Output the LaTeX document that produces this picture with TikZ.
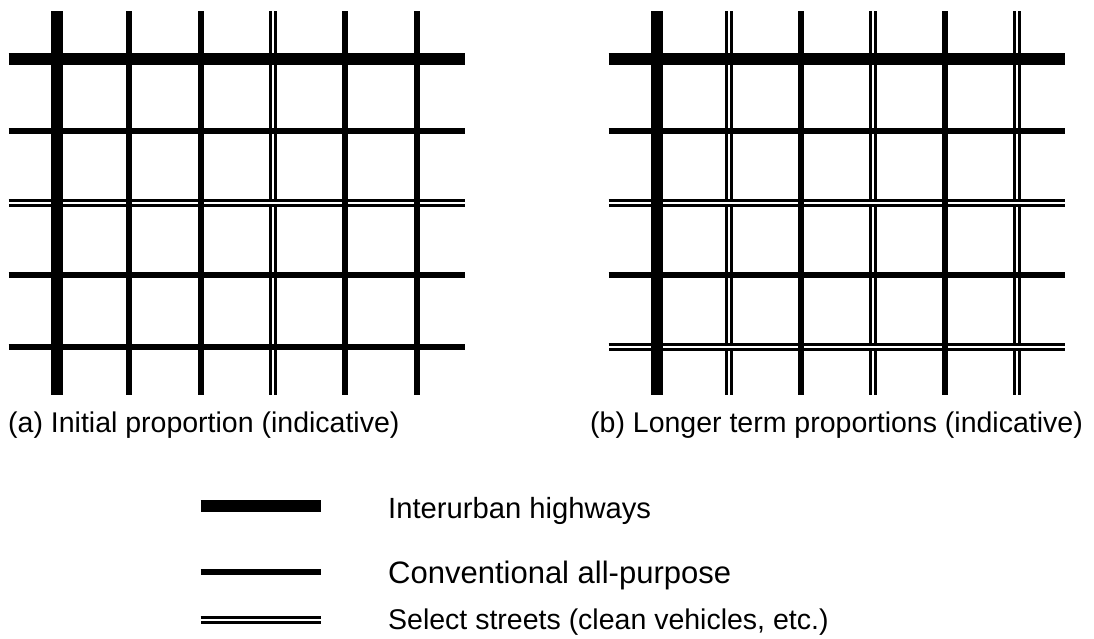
\documentclass[tikz,border=0pt]{standalone}
\usepackage{fontspec}
\setmainfont{Liberation Sans}
\begin{document}
\begin{tikzpicture}[x=1pt, y=-1pt, line cap=butt,
  hwy/.style={line width=12pt},
  conv/.style={line width=5.8pt},
  sel/.style={line width=2.4pt, double=white, double distance=2.4pt},
  lbl/.style={anchor=base west, inner sep=0pt},
  capfont/.style={font=\fontsize{28.5}{32}\selectfont}]
\useasboundingbox (0,0) rectangle (1094,638);

% ---------- grid (a): initial proportion ----------
\begin{scope}
  \draw[sel] (273,11) -- (273,395);
  \draw[sel] (8.7,203) -- (464.7,203);
  \foreach \x in {129,201,345,417} \draw[conv] (\x,11) -- (\x,395);
  \foreach \y in {131,275,347} \draw[conv] (8.7,\y) -- (464.7,\y);
  \draw[hwy] (8.7,59) -- (464.7,59);
  \draw[hwy] (57,11) -- (57,395);
\end{scope}

% ---------- grid (b): longer term proportions ----------
\begin{scope}
  \foreach \x in {729,873,1017} \draw[sel] (\x,11) -- (\x,395);
  \foreach \y in {203,347} \draw[sel] (608.7,\y) -- (1064.7,\y);
  \foreach \x in {801,945} \draw[conv] (\x,11) -- (\x,395);
  \foreach \y in {131,275} \draw[conv] (608.7,\y) -- (1064.7,\y);
  \draw[hwy] (608.7,59) -- (1064.7,59);
  \draw[hwy] (657,11) -- (657,395);
\end{scope}

% ---------- captions ----------
\node[lbl, capfont] (capA) at (8,432) {(a) Initial proportion (indicative)};
\node[lbl, capfont] (capB) at (590,432) {(b) Longer term proportions (indicative)};

% ---------- legend ----------
\coordinate (hA) at (200.7,505.5);
\coordinate (hB) at (320.7,505.5);
\coordinate (cA) at (200.7,571.7);
\coordinate (cB) at (320.7,571.7);
\coordinate (sA) at (200.7,620);
\coordinate (sB) at (320.7,620);
\draw[hwy] (hA) -- (hB);
\draw[conv] (cA) -- (cB);
\draw[sel] (sA) -- (sB);
\node[lbl, font=\fontsize{29.2}{32}\selectfont] (tH) at (388,518) {Interurban highways};
\node[lbl, font=\fontsize{31}{34}\selectfont] (tC) at (388,583) {Conventional all-purpose};
\node[lbl, font=\fontsize{28.5}{32}\selectfont] (tS) at (388,629) {Select streets (clean vehicles, etc.)};
\end{tikzpicture}
\end{document}
